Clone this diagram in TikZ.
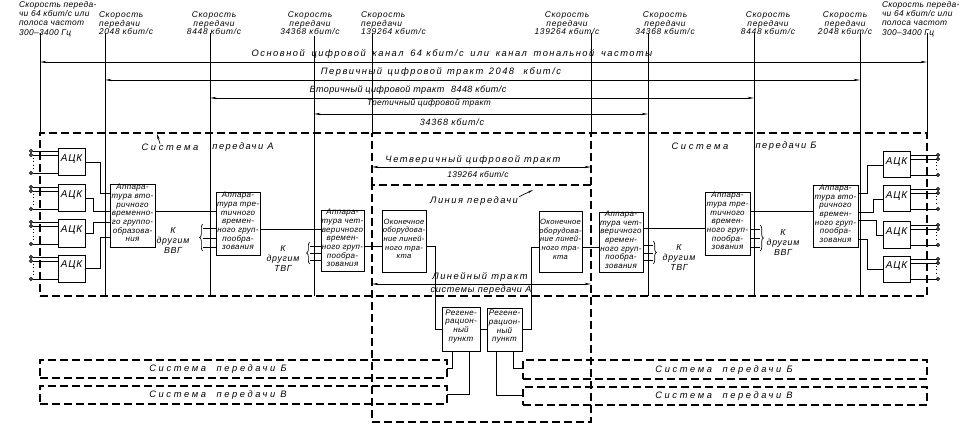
\documentclass[tikz,border=0pt]{standalone}
\usepackage{fontspec}
\setmainfont{Liberation Sans}
\newfontfamily\dfz{Liberation Sans}[LetterSpace=4]
\newfontfamily\dfa{Liberation Sans}[LetterSpace=8]
\newfontfamily\dfb{Liberation Sans}[LetterSpace=16]
\newfontfamily\dfc{Liberation Sans}[LetterSpace=28]
\usetikzlibrary{arrows.meta,fit,decorations.pathreplacing}
\begin{document}
\begin{tikzpicture}[x=0.75pt,y=-0.75pt,
 every node/.style={inner sep=0pt,outer sep=0pt},
 sml/.style={font=\dfa\itshape\fontsize{6.3}{6.4}\selectfont,align=center},
 sml4/.style={font=\dfz\itshape\fontsize{6.3}{7}\selectfont,align=left},
 kd/.style={font=\dfa\itshape\fontsize{6.6}{7.5}\selectfont,align=center},
 lblc/.style={font=\dfb\itshape\fontsize{7}{8}\selectfont},
 lblz/.style={font=\dfz\itshape\fontsize{6.8}{8}\selectfont},
 lblb/.style={font=\dfa\itshape\fontsize{6.8}{8}\selectfont},
 bigc/.style={font=\dfc\itshape\fontsize{7}{8}\selectfont},
 bigb/.style={font=\dfb\itshape\fontsize{7}{8}\selectfont},
 bx/.style={draw,line width=0.75pt,font=\dfz\itshape\fontsize{6}{6.5}\selectfont,align=left},
 bxo/.style={bx,font=\dfz\itshape\fontsize{5.7}{6.5}\selectfont},
 ack/.style={draw,line width=0.75pt,font=\dfa\itshape\fontsize{7.5}{8}\selectfont},
 dbox/.style={draw,line width=0.9pt,dash pattern=on 6pt off 3pt},
 dsh/.style={line width=0.9pt,dash pattern=on 6pt off 3pt},
 vl/.style={line width=0.55pt},
 cn/.style={line width=0.65pt},
 darr/.style={line width=0.55pt,{Stealth[length=5pt,width=1.8pt]}-{Stealth[length=5pt,width=1.8pt]}},
 parr/.style={line width=0.5pt,-{Stealth[length=4pt,width=1.6pt]}},
 brc/.style={line width=0.5pt,decorate,decoration={brace,amplitude=2.5pt}}
]
\fill[white] (0,0) rectangle (971,431);
\useasboundingbox (0,0) rectangle (971,431);

% ---------- speed labels
\node[sml4,anchor=west] (s1) at (19,19) {Скорость переда-\\чи 64 кбит/с или\\полоса частот\\300–3400 Гц};
\node[sml,align=left,anchor=west] (s2) at (99,23.5) {Скорость\\передачи\\2048 кбит/с};
\node[sml] (s3) at (214,23.5) {Скорость\\передачи\\8448 кбит/с};
\node[sml] (s4) at (310,23.5) {Скорость\\передачи\\34368 кбит/с};
\node[sml,align=left,anchor=west] (s5) at (361,23.5) {Скорость\\передачи\\139264 кбит/с};
\node[sml] (s6) at (567,23.5) {Скорость\\передачи\\139264 кбит/с};
\node[sml] (s7) at (665,23.5) {Скорость\\передачи\\34368 кбит/с};
\node[sml] (s8) at (768,23.5) {Скорость\\передачи\\8448 кбит/с};
\node[sml] (s9) at (845,23.5) {Скорость\\передачи\\2048 кбит/с};
\node[sml4,anchor=west] (s10) at (882,19) {Скорость переда-\\чи 64 кбит/с или\\полоса частот\\300–3400 Гц};

% ---------- speed lines
\coordinate (t1) at (40,33);
\coordinate (t2) at (105,33);
\coordinate (t3) at (210,33);
\coordinate (t4) at (314,36);
\coordinate (t5) at (372,33);
\coordinate (t6) at (591,33);
\coordinate (t7) at (648,33);
\coordinate (t8) at (754,33);
\coordinate (t9) at (860,33);
\coordinate (t10) at (927,33);
\foreach \i in {1,5,6,10} \draw[vl] (t\i) -- (t\i |- 0,133);
\foreach \i in {2,3,4,7,8,9} \draw[vl] (t\i) -- (t\i |- 0,296);

% ---------- frames
\node[dbox,fit={(40,133) (927,296)}] (frame) {};
\node[dbox,fit={(372,185) (591,422)}] (line) {};
\draw[dsh] (line.north west) -- (line.north west |- frame.north);
\draw[dsh] (line.north east) -- (line.north east |- frame.north);

% ---------- main arrows
\draw[darr] (t1 |- 0,62) -- (t10 |- 0,62);
\draw[darr] (t2 |- 0,80) -- (t9 |- 0,80);
\draw[darr] (t3 |- 0,98) -- (t8 |- 0,98);
\draw[darr] (t4 |- 0,114) -- (t7 |- 0,114);
\draw[darr] (t5 |- 0,167) -- (t6 |- 0,167);
\draw[darr] (t5 |- 0,284) -- (t6 |- 0,284);

\node[lblc] (L1) at (452,54) {Основной\hspace{2pt} цифровой\hspace{2pt} канал\hspace{2pt} 64 кбит/с\hspace{2pt} или\hspace{2pt} канал\hspace{2pt} тональной\hspace{2pt} частоты};
\node[lblc] (L2) at (441,72.5) {Первичный\hspace{1pt} цифровой\hspace{1pt} тракт\hspace{1pt} 2048\hspace{4pt} кбит/с};
\node[lblz] (L3) at (408,90) {Вторичный цифровой тракт\hspace{3pt} 8448 кбит/с};
\node[font=\dfz\itshape\fontsize{6.3}{7}\selectfont] (L4a) at (429,103) {Третичный цифровой тракт};
\node[lblb] (L4b) at (452,122) {34368 кбит/с};
\node[lblc] (L5a) at (473,160) {Четверичный цифровой тракт};
\node[font=\dfz\itshape\fontsize{6.3}{7}\selectfont] (L5b) at (478,174) {139264 кбит/с};
\node[lblc] (lnp) at (474,201) {Линия передачи};
\node[lblc] (L6a) at (480,277) {Линейный тракт};
\node[lblb] (L6b) at (481,290.5) {системы передачи А};

\node[bigc] (sA1) at (170,147) {Система};
\node[bigb] (sA2) at (243,147) {передачи А};
\node[bigc] (sB1) at (700,146) {Система};
\node[bigb] (sB2) at (786,146) {передачи Б};
\draw[parr] (sA1.north -| 160,0) -- (157,134);
\draw[parr] ([xshift=1pt]lnp.north east) -- (533,190);

% ---------- left ACK boxes
\foreach \y [count=\i] in {149,185,220,255} {
  \node[ack,fit={(58,\y) (85,{\y+27})}] (ackl\i) {АЦК};
  \draw[cn] (31,{\y+2}) circle[radius=1.1pt];
  \draw[cn] (31,{\y+6}) circle[radius=1.1pt];
  \draw[cn] (31,{\y+24}) circle[radius=1.1pt];
  \draw[cn] (32.5,{\y+2}) -- (ackl\i.west |- 0,{\y+2});
  \draw[cn] (32.5,{\y+6}) -- (ackl\i.west |- 0,{\y+6});
  \draw[cn] (32.5,{\y+24}) -- (ackl\i.west |- 0,{\y+24});
  \draw[line width=0.5pt,dotted] (33,{\y+9}) -- (33,{\y+21});
}
% ---------- right ACK boxes
\foreach \y [count=\i] in {152,186,222,256} {
  \node[ack,fit={(883,\y) (910,{\y+26})}] (ackr\i) {АЦК};
  \draw[cn] (938,{\y+3}) circle[radius=1.1pt];
  \draw[cn] (938,{\y+7}) circle[radius=1.1pt];
  \draw[cn] (938,{\y+23}) circle[radius=1.1pt];
  \draw[cn] (ackr\i.east |- 0,{\y+3}) -- (936.5,{\y+3});
  \draw[cn] (ackr\i.east |- 0,{\y+7}) -- (936.5,{\y+7});
  \draw[cn] (ackr\i.east |- 0,{\y+23}) -- (936.5,{\y+23});
  \draw[line width=0.5pt,dotted] (936,{\y+10}) -- (936,{\y+20});
}

% ---------- equipment boxes
\node[bx,fit={(110,185) (155,247)}] (bvg1) {Аппара-\\тура вто-\\ричного\\временно-\\го группо-\\образова-\\ния};
\node[bx,fit={(216,193) (260,255)}] (tvg1) {Аппара-\\тура тре-\\тичного\\времен-\\ного груп-\\пообра-\\зования};
\node[bx,fit={(321,211) (364,271)}] (cvg1) {Аппара-\\тура чет-\\веричного\\времен-\\ного груп-\\пообра-\\зования};
\node[bxo,fit={(382,211) (426,272)}] (olt1) {Оконечное\\оборудова-\\ние линей-\\ного тра-\\кта};
\node[bx,fit={(442,307) (480,351)}] (reg1) {Регене-\\рацион-\\ный\\пункт};
\node[bx,fit={(487,308) (522,351)}] (reg2) {Регене-\\рацион-\\ный\\пункт};
\node[bxo,fit={(539,212) (582,272)}] (olt2) {Оконечное\\оборудова-\\ние линей-\\ного тра-\\кта};
\node[bx,fit={(599,213) (643,272)}] (cvg2) {Аппара-\\тура чет-\\веричного\\времен-\\ного груп-\\пообра-\\зования};
\node[bx,fit={(705,193) (750,255)}] (tvg2) {Аппара-\\тура тре-\\тичного\\времен-\\ного груп-\\пообра-\\зования};
\node[bx,fit={(813,186) (858,247)}] (bvg2) {Аппара-\\тура вто-\\ричного\\времен-\\ного груп-\\пообра-\\зования};

% ---------- connections
\draw[cn] (ackl1.east) -| (100,193) -- (bvg1.west |- 0,193);
\draw[cn] (ackl2.east) -| (93,211) -- (bvg1.west |- 0,211);
\draw[cn] (ackl3.east) -| (93,222) -- (bvg1.west |- 0,222);
\draw[cn] (ackl4.east) -| (100,237) -- (bvg1.west |- 0,237);
\draw[cn] (bvg1.east |- 0,211) -- (tvg1.west |- 0,211);
\draw[cn] (tvg1.east |- 0,229) -- (cvg1.west |- 0,229);
\draw[cn] (cvg1.east |- 0,246) -- (olt1.west |- 0,246);
\draw[cn] (olt1.east |- 0,246) -| (435,329) -- (reg1.west |- 0,329);
\draw[cn] (reg1.east |- 0,329) -- (reg2.west |- 0,329);
\draw[cn] (reg2.east |- 0,329) -| (531,247) -- (olt2.west |- 0,247);
\draw[cn] (olt2.east |- 0,247) -- (cvg2.west |- 0,247);
\draw[cn] (cvg2.east |- 0,228) -- (tvg2.west |- 0,228);
\draw[cn] (tvg2.east |- 0,211) -- (bvg2.west |- 0,211);
\draw[cn] (bvg2.east |- 0,193) -| (867,165) -- (ackr1.west);
\draw[cn] (bvg2.east |- 0,212) -| (873,199) -- (ackr2.west |- 0,199);
\draw[cn] (bvg2.east |- 0,220) -| (876,235) -- (ackr3.west |- 0,235);
\draw[cn] (bvg2.east |- 0,239) -| (867,269) -- (ackr4.west |- 0,269);

% ---------- braces "to other"
\node[kd] (kl1) at (173,240) {К\\другим\\ВВГ};
\draw[brc] (203,251) -- (203,224);
\foreach \yy in {228,238,247} \draw[cn] (203,\yy) -- (tvg1.west |- 0,\yy);
\node[kd] (kl2) at (283,258) {К\\другим\\ТВГ};
\draw[brc] (310,264) -- (310,242);
\foreach \yy in {246,253,260} \draw[cn] (310,\yy) -- (cvg1.west |- 0,\yy);
\node[kd] (kr1) at (679,257) {К\\другим\\ТВГ};
\draw[brc] (653,241) -- (653,264);
\foreach \yy in {245,253,260} \draw[cn] (cvg2.east |- 0,\yy) -- (653,\yy);
\node[kd] (kr2) at (783,242) {К\\другим\\ВВГ};
\draw[brc] (760,225) -- (760,251);
\foreach \yy in {229,238,247} \draw[cn] (tvg2.east |- 0,\yy) -- (760,\yy);

% ---------- other transmission systems
\node[dbox,fit={(40,360) (447,378)}] (sbl1) {};
\node[dbox,fit={(40,386) (447,404)}] (sbl2) {};
\node[dbox,fit={(523,360) (927,379)}] (sbr1) {};
\node[dbox,fit={(523,387) (927,405)}] (sbr2) {};
\node[bigc] (tl1) at (218,369) {Система\hspace{4pt} передачи Б};
\node[bigc] (tl2) at (218,395) {Система\hspace{4pt} передачи В};
\node[bigc] (tr1) at (724,370) {Система\hspace{4pt} передачи Б};
\node[bigc] (tr2) at (724,396) {Система\hspace{4pt} передачи В};
\draw[cn] (reg1.south -| 452,0) |- (sbl1.east |- 0,368);
\draw[cn] (reg1.south -| 469,0) |- (sbl2.east |- 0,394);
\draw[cn] (reg2.south -| 513,0) |- (sbr1.west |- 0,368);
\draw[cn] (reg2.south -| 496,0) |- (sbr2.west |- 0,395);
\end{tikzpicture}
\end{document}
